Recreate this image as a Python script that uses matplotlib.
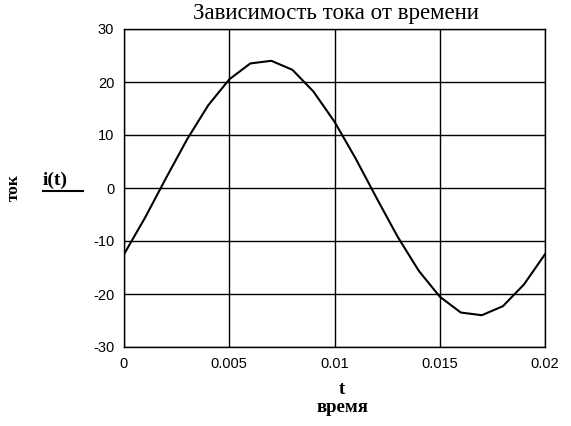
import matplotlib
matplotlib.use('Agg')
import matplotlib.pyplot as plt
from matplotlib.lines import Line2D

# Values (Mathcad sampling step 0.001 s)
t = [0.000, 0.001, 0.002, 0.003, 0.004, 0.005, 0.006, 0.007, 0.008, 0.009, 0.010,
     0.011, 0.012, 0.013, 0.014, 0.015, 0.016, 0.017, 0.018, 0.019, 0.020]
i_t = [-12.5, -5.6, 1.9, 9.2, 15.6, 20.5, 23.5, 24.0, 22.3, 18.2, 12.5,
       5.6, -1.9, -9.2, -15.6, -20.5, -23.5, -24.0, -22.3, -18.2, -12.5]

x_ticks = [0, 0.005, 0.01, 0.015, 0.02]
x_labels = ['0', '0.005', '0.01', '0.015', '0.02']
y_ticks = [-30, -20, -10, 0, 10, 20, 30]

title = 'Зависимость тока от времени'
serif = 'Liberation Serif'
sans = 'Liberation Sans'

fig = plt.figure(figsize=(5.71, 4.26), dpi=100)
ax = fig.add_axes([124 / 571, 1 - 347 / 426, 421 / 571, 318 / 426])

ax.plot(t, i_t, color='black', linewidth=1.5)

ax.set_xlim(0, 0.02)
ax.set_ylim(-30, 30)
ax.set_xticks(x_ticks)
ax.set_xticklabels(x_labels, fontfamily=sans, fontsize=10.5)
ax.set_yticks(y_ticks)
ax.set_yticklabels([str(v) for v in y_ticks], fontfamily=sans, fontsize=10.5)
ax.tick_params(length=0, pad=7)
ax.grid(True, color='black', linewidth=1)
for s in ax.spines.values():
    s.set_linewidth(1)
    s.set_color('black')

# Title and labels
fig.text(336 / 571, 1 - 14 / 426, title, ha='center', va='center',
         fontfamily=serif, fontsize=16.5)
fig.text(342 / 571, 1 - 390 / 426, 't', ha='center', va='center',
         fontfamily=serif, fontsize=13.5, fontweight='bold')
fig.text(342 / 571, 1 - 408 / 426, 'время', ha='center', va='center',
         fontfamily=serif, fontsize=13.5, fontweight='bold')
fig.text(14 / 571, 1 - 188 / 426, 'ток', ha='center', va='center', rotation=90,
         fontfamily=serif, fontsize=12.5, fontweight='bold')
fig.text(55 / 571, 1 - 180 / 426, 'i(t)', ha='center', va='center',
         fontfamily=serif, fontsize=14, fontweight='bold')
fig.add_artist(Line2D([43 / 571, 83 / 571], [1 - 191 / 426, 1 - 191 / 426],
                      color='black', linewidth=1.5, transform=fig.transFigure))

plt.savefig('out.png', dpi=100)
